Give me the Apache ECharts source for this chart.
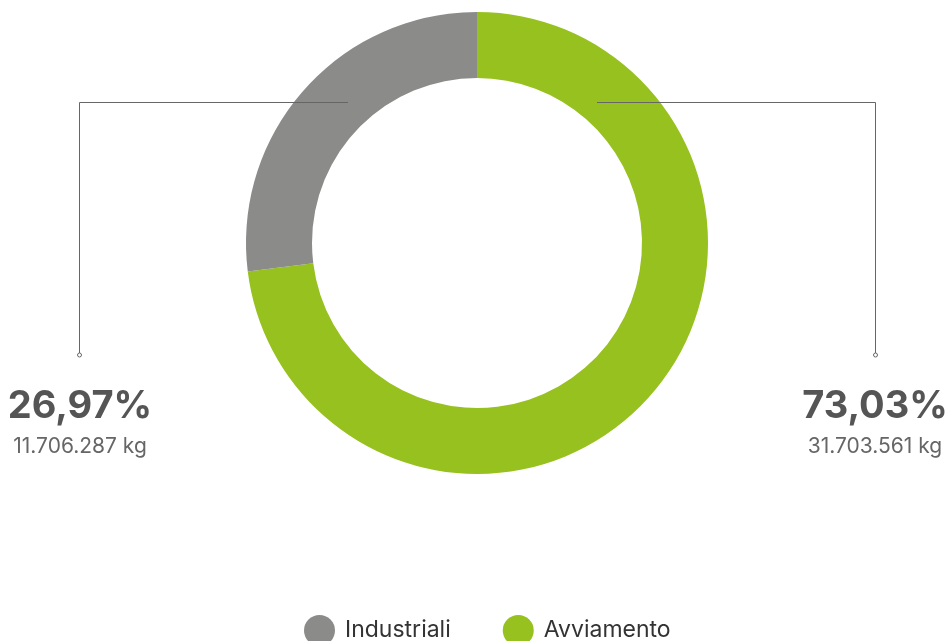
<!DOCTYPE html>
<html>
<head>
<meta charset="utf-8">
<script src="https://cdn.jsdelivr.net/npm/echarts@6/dist/echarts.min.js"></script>
<style>html,body{margin:0;padding:0;background:#fff}#c{width:949px;height:641px}</style>
</head>
<body>
<div id="c"></div>
<script>
const categories = ['Avviamento', 'Industriali'];
const valuesKg = [31703561, 11706287];
const legendOrder = ['Industriali', 'Avviamento'];
const colors = ['#96C11F', '#8B8B89'];

function fmtInt(n) {
  return String(Math.round(n)).replace(/\B(?=(\d{3})+(?!\d))/g, '.');
}
const total = valuesKg.reduce((a, b) => a + b, 0);

const chart = echarts.init(document.getElementById('c'), null, { renderer: 'canvas' });
const CX = 477, CY = 243;
const FONT = 'Inter, "Open Sans", sans-serif';

// leader line geometry (decoration)
const leaders = [
  { sx: 597, lx: 875 },
  { sx: 348, lx: 79 }
];
const lineY = 102.5, endY = 355;

const graphics = [];
leaders.forEach(l => {
  graphics.push({ type: 'polyline', z: 100, shape: { points: [[l.sx, lineY], [l.lx + 0.5, lineY], [l.lx + 0.5, endY - 2]] },
    style: { stroke: '#666666', lineWidth: 1, fill: null } });
  graphics.push({ type: 'circle', z: 100, shape: { cx: l.lx + 0.5, cy: endY, r: 2 },
    style: { fill: '#fff', stroke: '#666666', lineWidth: 1 } });
});

const option = {
  animation: false,
  color: colors,
  legend: {
    data: legendOrder,
    bottom: -10,
    left: 299,
    icon: 'circle',
    itemWidth: 31,
    itemHeight: 31,
    itemGap: 52,
    textStyle: { fontSize: 23, color: '#333', fontFamily: FONT, padding: [0, 0, 0, 5] }
  },
  series: [{
    type: 'pie',
    center: [CX, CY],
    radius: [165, 231],
    startAngle: 90,
    clockwise: true,
    avoidLabelOverlap: false,
    data: categories.map((c, i) => ({ name: c, value: valuesKg[i] })),
    label: {
      show: true,
      formatter: p => '{pct|' + (p.value / total * 100).toFixed(2).replace('.', ',') + '%}\n{kg|' + fmtInt(p.value) + ' kg}',
      rich: {
        pct: { fontSize: 38, fontWeight: 'bold', color: '#555555', fontFamily: FONT, lineHeight: 48, align: 'center' },
        kg: { fontSize: 21, color: '#666666', fontFamily: FONT, lineHeight: 32, align: 'center' }
      }
    },
    labelLine: { show: false },
    labelLayout: function (params) {
      const right = params.dataIndex === 0;
      return {
        x: right ? 875 : 80,
        y: 383,
        align: 'center',
        verticalAlign: 'top'
      };
    }
  }],
  graphic: graphics
};
chart.setOption(option);
</script>
</body>
</html>
